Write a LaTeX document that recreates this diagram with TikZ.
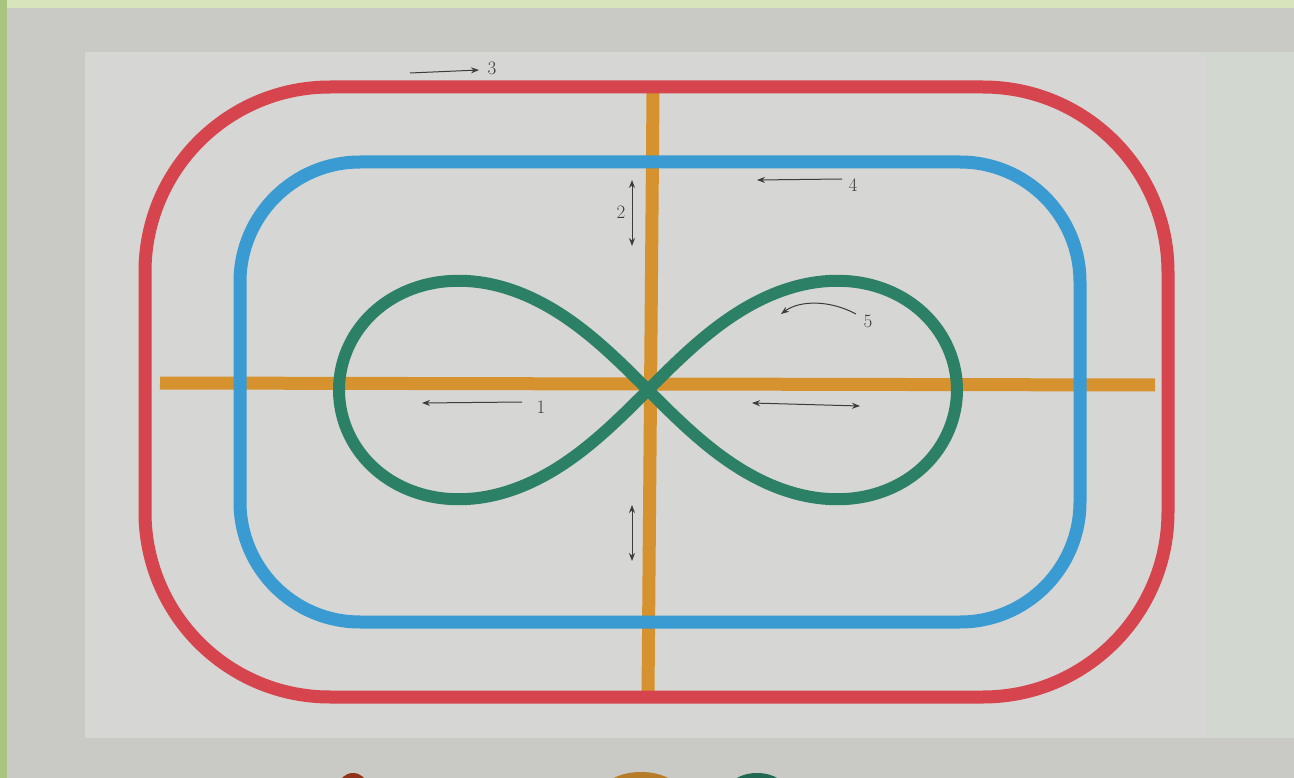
\documentclass[tikz,border=0pt]{standalone}
\usetikzlibrary{arrows.meta}
\definecolor{bgout}{HTML}{C9CAC6}
\definecolor{paper}{HTML}{D6D6D4}
\definecolor{rightpaper}{HTML}{D2D8D0}
\definecolor{topstrip}{HTML}{D8E4BC}
\definecolor{leftstrip}{HTML}{A9C47E}
\definecolor{loopred}{HTML}{D6444E}
\definecolor{loopblue}{HTML}{3A9BD2}
\definecolor{crossorange}{HTML}{D6922E}
\definecolor{infgreen}{HTML}{2B8066}
\definecolor{pencil}{HTML}{3C3C3C}
\tikzset{
  paint/.style={line width=13pt, line cap=round, line join=round},
  pencilarrow/.style={draw=pencil, line width=1pt, -{Stealth[length=8pt,width=6pt]}},
  pencildouble/.style={draw=pencil, line width=1pt, {Stealth[length=8pt,width=6pt]}-{Stealth[length=8pt,width=6pt]}},
  handlabel/.style={text=pencil, font=\fontsize{19}{19}\selectfont, inner sep=1pt}
}
\begin{document}
\begin{tikzpicture}[x=1pt,y=-1pt]
\useasboundingbox (0,0) rectangle (1294,778);
\clip (0,0) rectangle (1294,778);
% photo background
\fill[bgout] (0,0) rectangle (1294,778);
\fill[paper] (85,52) rectangle (1205,738);
\fill[rightpaper] (1205,52) rectangle (1294,738);
% partial objects at the bottom edge
\fill[black!55!red!60!brown] (353,786) ellipse [x radius=14, y radius=13];
\fill[crossorange!85!black] (641,792) ellipse [x radius=38, y radius=20];
\fill[infgreen!80!black] (757,792) ellipse [x radius=30, y radius=19];
% frame strips
\fill[topstrip] (0,0) rectangle (1294,8);
\fill[leftstrip] (0,0) rectangle (7,778);
% orange cross
\draw[paint, crossorange, line cap=butt] (160,383) -- (1155,385);
\draw[paint, crossorange, line cap=butt] (653,93) -- (648,696);
% blue loop
\draw[paint, loopblue, rounded corners=120] (240,162) rectangle (1080,622);
% red loop
\draw[paint, loopred, rounded corners=185] (145,87) rectangle (1168,697);
% green infinity
\draw[paint, infgreen, line width=12pt] plot[domain=0:360, samples=240, smooth cycle, variable=\t]
  ({648+309*cos(\t)/(1+sin(\t)^2)}, {390+309*sin(\t)*cos(\t)/(1+sin(\t)^2)});
% pencil arrows and labels
\node[handlabel] (l3) at (492,68) {3};
\coordinate (a3s) at (410,73);
\coordinate (a3e) at (479,70);
\draw[pencilarrow] (a3s) -- (a3e);

\node[handlabel] (l2) at (621,212) {2};
\coordinate (a2t) at (632,180);
\coordinate (a2b) at (632,246);
\draw[pencildouble] (a2t) -- (a2b);

\node[handlabel] (l4) at (853,185) {4};
\coordinate (a4s) at (842,179);
\coordinate (a4e) at (757,180);
\draw[pencilarrow] (a4s) -- (a4e);

\node[handlabel] (l5) at (868,321) {5};
\coordinate (a5s) at (856,314);
\coordinate (a5e) at (781,314);
\draw[pencilarrow] (a5s) .. controls (830,300) and (800,300) .. (a5e);

\node[handlabel] (l1) at (541,407) {1};
\coordinate (a1s) at (522,402);
\coordinate (a1e) at (422,403);
\draw[pencilarrow] (a1s) -- (a1e);

\coordinate (ars) at (752,403);
\coordinate (are) at (860,406);
\draw[pencildouble] (ars) -- (are);

\coordinate (abt) at (632,505);
\coordinate (abb) at (632,561);
\draw[pencildouble] (abt) -- (abb);
\end{tikzpicture}
\end{document}
